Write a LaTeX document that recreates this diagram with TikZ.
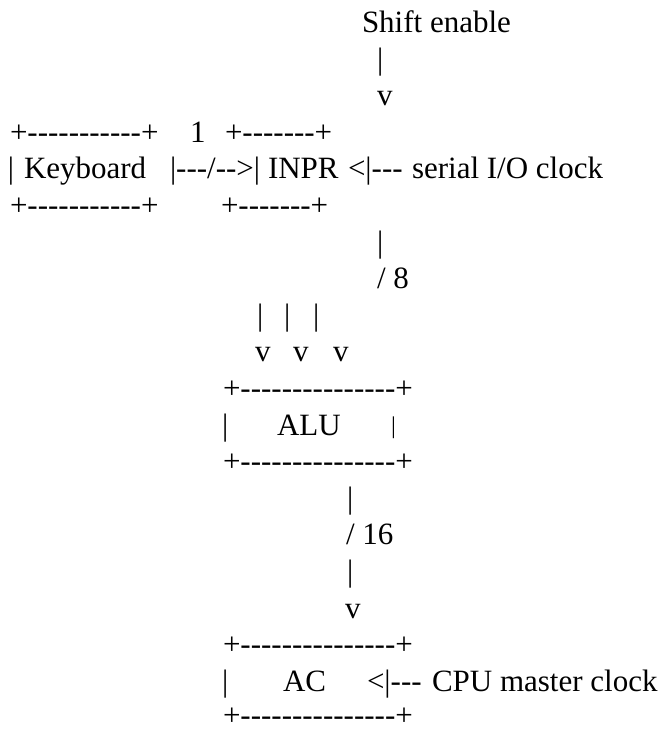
\documentclass[tikz,border=0pt]{standalone}
\usepackage{fontspec}
\setmainfont{Liberation Serif}[Ligatures=TeXOff]
\usepackage{tikz}

\begin{document}
\begin{tikzpicture}[x=1pt, y=-1pt,
  ascii/.style={anchor=base west, inner sep=0pt, outer sep=0pt, text depth=0pt, font=\fontsize{31}{36}\selectfont}]
  \useasboundingbox (0,0) rectangle (667,731);
  % Shift enable input
  \node[ascii] (shift) at (362,32) {Shift enable};
  \node[ascii] (shiftbar) at (377,69) {|};
  \node[ascii] (shifttip) at (377,105) {v};
  % Keyboard and INPR
  \node[ascii] (kbtop) at (10,142) {+-----------+};
  \node[ascii] (kbwidth) at (190,142) {1};
  \node[ascii] (inprtop) at (225,142) {+-------+};
  \node[ascii] (kbleft) at (8,178) {|};
  \node[ascii] (kb) at (24,178) {Keyboard};
  \node[ascii] (kblink) at (170,178) {|---/-->|};
  \node[ascii] (inpr) at (268,178) {INPR};
  \node[ascii] (inprclk) at (348,178) {<|---};
  \node[ascii] (serclk) at (412,178) {serial I/O clock};
  \node[ascii] (kbbot) at (10,215) {+-----------+};
  \node[ascii] (inprbot) at (221,215) {+-------+};
  % INPR to ALU, 8 bits
  \node[ascii] (inprbar) at (377,252) {|};
  \node[ascii] (bus8) at (377,288) {/ 8};
  \foreach \i/\bx/\vx in {1/257/255, 2/284/293, 3/313/333} {
    \node[ascii] (albar\i) at (\bx,325) {|};
    \node[ascii] (altip\i) at (\vx,361) {v};
  }
  % ALU
  \node[ascii] (alutop) at (223,398) {+---------------+};
  \node[ascii] (aluleft) at (222,435) {|};
  \node[ascii] (alu) at (277,435) {ALU};
  \node[ascii, font=\fontsize{24}{28}\selectfont] (aluright) at (391,433) {|};
  \node[ascii] (alubot) at (223,471) {+---------------+};
  % ALU to AC, 16 bits
  \node[ascii] (alubar) at (347,508) {|};
  \node[ascii] (bus16) at (346,544) {/ 16};
  \node[ascii] (acbar) at (347,581) {|};
  \node[ascii] (actip) at (345,618) {v};
  % AC
  \node[ascii] (actop) at (223,654) {+---------------+};
  \node[ascii] (acleft) at (222,691) {|};
  \node[ascii] (ac) at (283,691) {AC};
  \node[ascii] (acclk) at (367,691) {<|---};
  \node[ascii] (cpuclk) at (432,691) {CPU master clock};
  \node[ascii] (acbot) at (223,725) {+---------------+};
\end{tikzpicture}
\end{document}
